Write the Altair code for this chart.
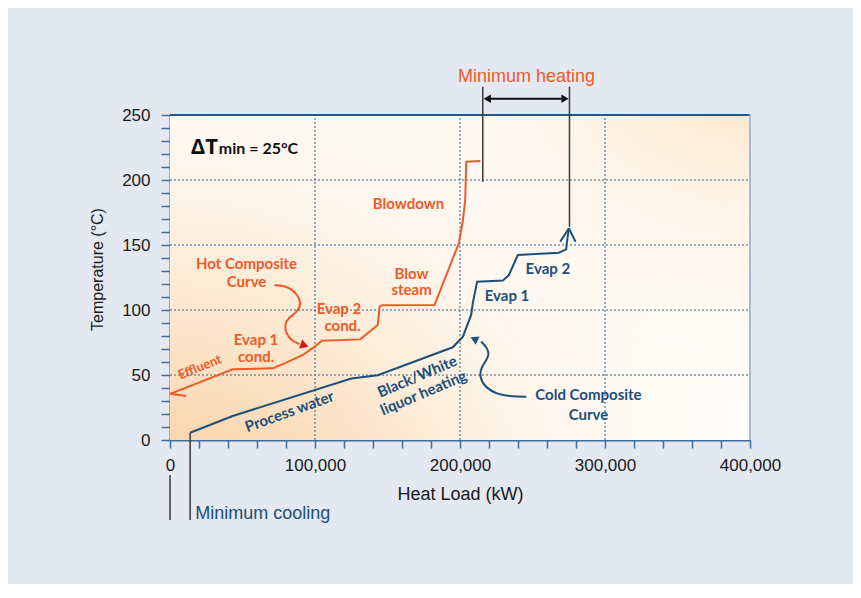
import altair as alt
import pandas as pd

# ---------------- data ----------------
hot_x = [0, 43300, 70900, 79000, 91600, 99700, 104700, 131200, 143300, 144500, 146300, 182400, 199200, 202000, 203600, 204300, 214100]
hot_t = [35.5, 54.4, 55.1, 59.0, 65.4, 71.8, 76.4, 77.4, 88.5, 102.6, 103.6, 103.8, 151.3, 169.2, 184.6, 214.0, 214.6]

cold_x = [13900, 43300, 125000, 143300, 195000, 202000, 207700, 208800, 211800, 229500, 233700, 239900, 268200, 273200, 273700, 275100]
cold_t = [5.6, 18.5, 47.3, 49.8, 71.3, 79.5, 96.2, 105.1, 121.8, 122.6, 126.9, 142.3, 144.1, 146.7, 151.8, 162.8]

hot_ptr_x = [72100, 82400, 88100, 90500, 88100, 81200, 79000, 80100, 83600, 89300]
hot_ptr_t = [119.2, 117.9, 111.5, 105.2, 98.7, 93.6, 88.5, 82.1, 76.4, 73.8]

cold_ptr_x = [245700, 236400, 225000, 216900, 213400, 214600, 220300, 219200, 214600]
cold_ptr_t = [33.3, 33.3, 35.2, 41.0, 48.7, 56.4, 64.1, 70.5, 75.6]

grid_x = [100000, 200000, 300000]
grid_y = [50, 100, 150, 200]

x_ticks = list(range(0, 400001, 20000))
y_ticks = list(range(0, 251, 10))

orange_text = ["Hot Composite", "Curve", "Blowdown", "Blow", "steam", "Evap 2", "cond.", "Evap 1", "cond."]
orange_tx = [52800, 52800, 164500, 166600, 166600, 116500, 119000, 59300, 59400]
orange_ty = [135.6, 121.2, 181.5, 127.9, 115.1, 100.8, 87.8, 76.8, 63.6]

blue_text = ["Evap 2", "Evap 1", "Cold Composite", "Curve"]
blue_tx = [260600, 232400, 288600, 288600]
blue_ty = [131.5, 111.0, 34.8, 19.0]

blue_rot_text = ["Process water", "Black/White", "liquor heating"]
blue_rot_x = [82400, 170500, 174800]
blue_rot_y = [21.8, 48.8, 36.2]
blue_rot_angle = [340, 337, 337]

ORANGE = "#ef5a28"
BLUE = "#1c4f7c"
RED = "#d2151f"
GRID = "#2e5f8e"
AXIS = "#3f709d"
FONT = "Lato, Open Sans, sans-serif"

XD = [0, 400000]
YD = [0, 250]

x_axis = alt.Axis(values=x_ticks, grid=False,
                  labelExpr="datum.value % 100000 == 0 ? format(datum.value, ',') : ''",
                  labelFlush=False, labelFont="Liberation Sans", labelFontSize=17, labelColor="#1a1a1a",
                  tickSize=8, tickColor=AXIS, tickWidth=1.5, labelPadding=9,
                  domainColor=AXIS, domainWidth=2,
                  title="Heat Load (kW)", titleFont="Liberation Sans", titleFontSize=18,
                  titleFontWeight="normal", titleColor="#1a1a1a", titleX=290, titleY=59,
                  titleBaseline="alphabetic")
y_axis = alt.Axis(values=y_ticks, grid=False,
                  labelExpr="datum.value % 50 == 0 ? datum.label : ''",
                  labelFont="Liberation Sans", labelFontSize=17, labelColor="#1a1a1a",
                  tickSize=9, tickColor=AXIS, tickWidth=1.5, labelPadding=11,
                  domainColor=AXIS, domainWidth=2,
                  title="Temperature (°C)", titleFont="Liberation Sans", titleFontSize=16,
                  titleFontWeight="normal", titleColor="#1a1a1a", titleX=-68, titleY=154,
                  titleBaseline="alphabetic")


def X(f):
    return alt.X(f, type="quantitative", scale=alt.Scale(domain=XD, nice=False, zero=False), axis=x_axis)


def Y(f):
    return alt.Y(f, type="quantitative", scale=alt.Scale(domain=YD, nice=False, zero=False), axis=y_axis)


def seg_df(segs):
    return pd.DataFrame(segs, columns=["x", "y", "x2", "y2"])


# ---------------- background ----------------
bg_df = pd.DataFrame({"x": [XD[0]], "x2": [XD[1]], "y": [YD[0]], "y2": [YD[1]]})

base_rect = alt.Chart(bg_df).mark_rect(fill="#fffdfa").encode(x=X("x"), x2="x2", y=Y("y"), y2="y2")

grad_bl = alt.Gradient(gradient="radial", x1=0, y1=1, r1=0, x2=0, y2=1, r2=1.0,
                       stops=[alt.GradientStop(color="rgba(246,194,136,1)", offset=0),
                              alt.GradientStop(color="rgba(249,212,168,0.6)", offset=0.4),
                              alt.GradientStop(color="rgba(252,228,200,0.2)", offset=0.75),
                              alt.GradientStop(color="rgba(255,240,225,0)", offset=1)])
grad_tr = alt.Gradient(gradient="radial", x1=1, y1=0, r1=0, x2=1, y2=0, r2=0.8,
                       stops=[alt.GradientStop(color="rgba(252,214,168,1)", offset=0),
                              alt.GradientStop(color="rgba(253,225,192,0.45)", offset=0.4),
                              alt.GradientStop(color="rgba(254,236,214,0.1)", offset=0.75),
                              alt.GradientStop(color="rgba(255,244,232,0)", offset=1)])
rect_bl = alt.Chart(bg_df).mark_rect(fill=grad_bl).encode(x=X("x"), x2="x2", y=Y("y"), y2="y2")
rect_tr = alt.Chart(bg_df).mark_rect(fill=grad_tr).encode(x=X("x"), x2="x2", y=Y("y"), y2="y2")

# ---------------- grid & borders ----------------
grid_segs = [(g, YD[0], g, YD[1]) for g in grid_x] + [(XD[0], g, XD[1], g) for g in grid_y]
grid = alt.Chart(seg_df(grid_segs)).mark_rule(color=GRID, strokeWidth=1, strokeDash=[2, 2]).encode(
    x=X("x"), y=Y("y"), x2="x2", y2="y2")

top_border = alt.Chart(seg_df([(XD[0], YD[1], XD[1], YD[1])])).mark_rule(color="#215a8d", strokeWidth=2).encode(
    x=X("x"), y=Y("y"), x2="x2", y2="y2")
right_border = alt.Chart(seg_df([(XD[1], YD[0], XD[1], YD[1])])).mark_rule(color="#a9bad0", strokeWidth=2).encode(
    x=X("x"), y=Y("y"), x2="x2", y2="y2")

# ---------------- curves ----------------
hot_df = pd.DataFrame({"x": hot_x, "y": hot_t, "i": range(len(hot_x))})
cold_df = pd.DataFrame({"x": cold_x, "y": cold_t, "i": range(len(cold_x))})
hot_line = alt.Chart(hot_df).mark_line(color=ORANGE, strokeWidth=2).encode(x=X("x"), y=Y("y"), order="i:Q")
cold_line = alt.Chart(cold_df).mark_line(color=BLUE, strokeWidth=2).encode(x=X("x"), y=Y("y"), order="i:Q")

hot_ptr_df = pd.DataFrame({"x": hot_ptr_x, "y": hot_ptr_t, "i": range(len(hot_ptr_x))})
cold_ptr_df = pd.DataFrame({"x": cold_ptr_x, "y": cold_ptr_t, "i": range(len(cold_ptr_x))})
hot_ptr = alt.Chart(hot_ptr_df).mark_line(color=ORANGE, strokeWidth=2, interpolate="basis").encode(
    x=X("x"), y=Y("y"), order="i:Q")
cold_ptr = alt.Chart(cold_ptr_df).mark_line(color=BLUE, strokeWidth=2, interpolate="basis").encode(
    x=X("x"), y=Y("y"), order="i:Q")

# arrowheads (filled)
hot_head = alt.Chart(pd.DataFrame({"x": [92800], "y": [72.8]})).mark_point(
    shape="triangle-right", filled=True, color=RED, size=90, angle=18, opacity=1).encode(x=X("x"), y=Y("y"))
cold_head = alt.Chart(pd.DataFrame({"x": [209700], "y": [77.7]})).mark_point(
    shape="triangle-right", filled=True, color=BLUE, size=80, angle=205, opacity=1).encode(x=X("x"), y=Y("y"))

# open arrowheads
orange_arms = alt.Chart(seg_df([(0, 35.5, 11200, 33.8)])).mark_rule(color=ORANGE, strokeWidth=2).encode(
    x=X("x"), y=Y("y"), x2="x2", y2="y2")
blue_arms = alt.Chart(seg_df([(269100, 152.5, 275100, 162.8), (279700, 152.5, 275100, 162.8)])).mark_rule(
    color=BLUE, strokeWidth=2).encode(x=X("x"), y=Y("y"), x2="x2", y2="y2")

# ---------------- minimum heating / cooling ----------------
min_lines = alt.Chart(seg_df([(215700, 271.8, 215700, 198.7), (275500, 271.8, 275500, 164.0),
                              (0, -26.9, 0, -61.5), (13900, 5.6, 13900, -61.5)])).mark_rule(
    color="#3a3a3a", strokeWidth=1.5).encode(x=X("x"), y=Y("y"), x2="x2", y2="y2")
heat_shaft = alt.Chart(seg_df([(218000, 262.5, 273000, 262.5)])).mark_rule(color="#111111", strokeWidth=2).encode(
    x=X("x"), y=Y("y"), x2="x2", y2="y2")
heat_heads = alt.Chart(pd.DataFrame({"x": [218800, 272400], "y": [262.5, 262.5],
                                     "s": ["triangle-left", "triangle-right"]})).mark_point(
    filled=True, color="#111111", size=70, opacity=1).encode(
    x=X("x"), y=Y("y"), shape=alt.Shape("s:N", scale=None))

heat_label = alt.Chart(pd.DataFrame({"x": [245900], "y": [275.2], "t": ["Minimum heating"]})).mark_text(
    font="Liberation Sans", fontSize=18, color=ORANGE, align="center", baseline="alphabetic").encode(
    x=X("x"), y=Y("y"), text="t:N")
cool_label = alt.Chart(pd.DataFrame({"x": [17400], "y": [-61.0], "t": ["Minimum cooling"]})).mark_text(
    font="Liberation Sans", fontSize=18, color=BLUE, align="left", baseline="alphabetic").encode(
    x=X("x"), y=Y("y"), text="t:N")

# ---------------- annotations ----------------
orange_labels = alt.Chart(pd.DataFrame({"x": orange_tx, "y": orange_ty, "t": orange_text})).mark_text(
    font=FONT, fontSize=15, fontWeight="bold", color=ORANGE, align="center", baseline="middle").encode(
    x=X("x"), y=Y("y"), text="t:N")
effluent = alt.Chart(pd.DataFrame({"x": [20600], "y": [55.9], "t": ["Effluent"]})).mark_text(
    font=FONT, fontSize=13, fontWeight="bold", color=ORANGE, align="center", baseline="middle", angle=338).encode(
    x=X("x"), y=Y("y"), text="t:N")
blue_labels = alt.Chart(pd.DataFrame({"x": blue_tx, "y": blue_ty, "t": blue_text})).mark_text(
    font=FONT, fontSize=15, fontWeight="bold", color=BLUE, align="center", baseline="middle").encode(
    x=X("x"), y=Y("y"), text="t:N")
blue_rot = alt.Chart(pd.DataFrame({"x": blue_rot_x, "y": blue_rot_y, "t": blue_rot_text, "a": blue_rot_angle})).mark_text(
    font=FONT, fontSize=15, fontWeight="bold", color=BLUE, align="center", baseline="middle").encode(
    x=X("x"), y=Y("y"), text="t:N", angle=alt.Angle("a:Q", scale=None))

dt_big = alt.Chart(pd.DataFrame({"x": [14300], "y": [220.0], "t": ["ΔT"]})).mark_text(
    font="Open Sans", fontSize=22, fontWeight="bold", color="#111111", align="left", baseline="alphabetic").encode(
    x=X("x"), y=Y("y"), text="t:N")
dt_small = alt.Chart(pd.DataFrame({"x": [33700], "y": [220.0], "t": ["min = 25°C"]})).mark_text(
    font=FONT, fontSize=16, fontWeight="bold", color="#111111", align="left", baseline="alphabetic").encode(
    x=X("x"), y=Y("y"), text="t:N")

chart = alt.layer(
    base_rect, rect_bl, rect_tr, grid, top_border, right_border,
    min_lines, heat_shaft, heat_heads,
    hot_ptr, cold_ptr, hot_line, cold_line, orange_arms, blue_arms, hot_head, cold_head,
    orange_labels, effluent, blue_labels, blue_rot, dt_big, dt_small, heat_label, cool_label
).properties(
    width=580, height=325,
    padding={"left": 162, "top": 107, "right": 103, "bottom": 144},
    autosize=alt.AutoSizeParams(type="none"),
    background="#e4e8f1"
).configure_view(stroke=None)

chart.save("out.html", embed_options={"renderer": "svg", "actions": False})
